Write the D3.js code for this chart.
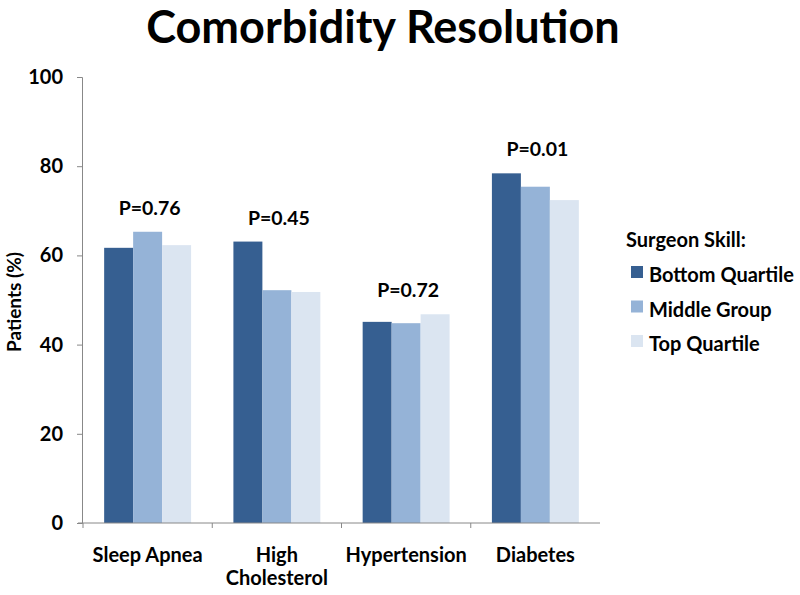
<!DOCTYPE html>
<html><head><meta charset="utf-8">
<script src="https://cdn.jsdelivr.net/npm/d3@7"></script>
<style>body{margin:0;background:#fff}text{font-family:Lato,"Open Sans",sans-serif;font-weight:bold;fill:#000}</style>
</head><body><svg id="c" width="800" height="595"></svg>
<script>
const categories = [["Sleep Apnea"], ["High","Cholesterol"], ["Hypertension"], ["Diabetes"]];
const seriesNames = ["Bottom Quartile", "Middle Group", "Top Quartile"];
const bottomQuartile = [61.7, 63.1, 45.1, 78.4];
const middleGroup = [65.3, 52.2, 44.8, 75.4];
const topQuartile = [62.3, 51.8, 46.8, 72.4];
const pValues = ["P=0.76", "P=0.45", "P=0.72", "P=0.01"];
const yTicks = [0, 20, 40, 60, 80, 100];
const colors = ["#365f91", "#95b3d7", "#dbe5f1"];

const series = [bottomQuartile, middleGroup, topQuartile];
const svg = d3.select("#c");
const x0 = 83, x1 = 600, yB = 523, yT = 77;
const x = d3.scaleBand().domain(d3.range(categories.length)).range([x0, x1]).paddingInner(0).paddingOuter(0);
const xs = d3.scaleBand().domain(d3.range(3)).range([0, x.bandwidth()]).paddingOuter(0.73).paddingInner(0);
const y = d3.scaleLinear().domain([0, 100]).range([yB, yT]);

svg.append("text").attr("x", 383).attr("y", 43).attr("text-anchor", "middle").style("font-size", "45px").text("Comorbidity Resolution");

// y axis
const ya = svg.append("g").attr("transform", `translate(${x0 - 1},0)`).call(d3.axisLeft(y).tickValues(yTicks).tickSize(5).tickPadding(14));
ya.select(".domain").attr("stroke", "#888");
ya.selectAll(".tick line").attr("stroke", "#888");
ya.selectAll(".tick text").style("font-size", "20px").style("font-family", "Lato").attr("fill", "#000");

svg.append("text").attr("transform", `translate(14,302) rotate(-90)`).attr("text-anchor", "middle").attr("dy", "0.35em").style("font-size", "19px").text("Patients (%)");

// bars
const g = svg.append("g");
categories.forEach((c, i) => {
  series.forEach((s, j) => {
    g.append("rect").attr("x", x(i) + xs(j)).attr("y", y(s[i])).attr("width", xs.bandwidth()).attr("height", yB - y(s[i])).attr("fill", colors[j]);
  });
  const mx = d3.max(series, s => s[i]);
  svg.append("text").attr("x", x(i) + x.bandwidth() / 2 + 2).attr("y", y(mx) - 17).attr("text-anchor", "middle").style("font-size", "19.5px").text(pValues[i]);
});

// x axis
const xa = svg.append("g").attr("transform", `translate(0,${yB})`);
xa.append("line").attr("x1", x0 - 5).attr("x2", x1).attr("stroke", "#888");
d3.range(categories.length).forEach(i => {
  xa.append("line").attr("x1", x(i)).attr("x2", x(i)).attr("y1", 0).attr("y2", 5).attr("stroke", "#888");
});
categories.forEach((c, i) => {
  const t = svg.append("text").attr("x", x(i) + x.bandwidth() / 2).attr("y", 562).attr("text-anchor", "middle").style("font-size", "20px");
  c.forEach((l, k) => t.append("tspan").attr("x", x(i) + x.bandwidth() / 2).attr("dy", k ? 23 : 0).text(l));
});

// legend
svg.append("text").attr("x", 626).attr("y", 247).style("font-size", "20px").text("Surgeon Skill:");
seriesNames.forEach((n, j) => {
  const cy = 272 + j * 34.5;
  svg.append("rect").attr("x", 631).attr("y", cy - 6).attr("width", 12).attr("height", 12).attr("fill", colors[j]);
  svg.append("text").attr("x", 649).attr("y", cy + 10).style("font-size", "20px").text(n);
});
</script></body></html>
